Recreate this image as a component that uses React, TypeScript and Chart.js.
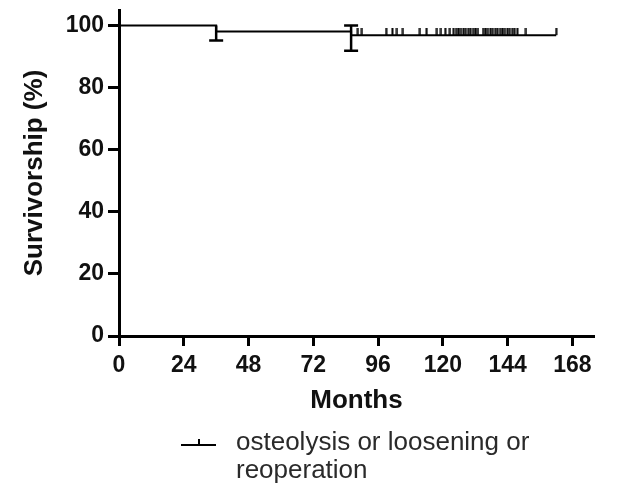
import React, { useEffect, useRef } from 'react';
import { Chart, registerables } from 'chart.js';

Chart.register(...registerables);

// ---- data ----
const xTicks = [0, 24, 48, 72, 96, 120, 144, 168];
const yTicks = [0, 20, 40, 60, 80, 100];
const stepTimes = [0, 36, 86, 162];
const stepSurvival = [100, 98.1, 96.9, 96.9];
const eventTimes = [36, 86];
const ciLower = [95.2, 91.9];
const ciUpper = [100, 100];
const censorTimes = [
  88.5, 90, 99, 101.3, 103, 105.2, 111.5, 114, 117.8, 119.3, 120.9, 122.6,
  124, 124.9, 125.8, 126.7, 127.6, 128.5, 129.4, 130.3, 131.2, 132.1, 133,
  134.9, 135.8, 136.7, 137.6, 138.5, 139.4, 140.3, 141.2, 142.1, 143, 143.9,
  144.8, 145.7, 146.6, 147.6, 150.8, 162,
];
const legendLines = ['osteolysis or loosening or', 'reoperation'];
const xTitle = 'Months';
const yTitle = 'Survivorship (%)';

const FONT = '"Liberation Sans", Arial, sans-serif';

function survivalAt(t: number): number {
  let s = stepSurvival[0];
  for (let i = 0; i < stepTimes.length; i++) {
    if (stepTimes[i] <= t) s = stepSurvival[i];
  }
  return s;
}

function makeTick(): HTMLCanvasElement {
  const c = document.createElement('canvas');
  c.width = 3;
  c.height = 14;
  const g = c.getContext('2d')!;
  g.fillStyle = '#000';
  g.fillRect(0.5, 0, 2, 7);
  return c;
}

const errorBarPlugin = {
  id: 'kmErrorBars',
  afterDatasetsDraw(chart: any) {
    const { ctx, scales } = chart;
    const x = scales.x;
    const y = scales.y;
    ctx.save();
    ctx.strokeStyle = '#000';
    ctx.lineWidth = 2.5;
    eventTimes.forEach((t, i) => {
      const px = x.getPixelForValue(t);
      const yl = y.getPixelForValue(ciLower[i]);
      const yu = y.getPixelForValue(ciUpper[i]);
      const before = survivalAt(t - 0.001);
      ctx.beginPath();
      ctx.moveTo(px, yu);
      ctx.lineTo(px, yl);
      ctx.moveTo(px - 7, yl);
      ctx.lineTo(px + 7, yl);
      if (ciUpper[i] > before) {
        ctx.moveTo(px - 7, yu);
        ctx.lineTo(px + 7, yu);
      }
      ctx.stroke();
    });
    ctx.restore();
  },
};

const legendPlugin = {
  id: 'kmLegend',
  afterDraw(chart: any) {
    const { ctx } = chart;
    ctx.save();
    ctx.strokeStyle = '#000';
    ctx.lineWidth = 2;
    ctx.beginPath();
    ctx.moveTo(181, 445);
    ctx.lineTo(216, 445);
    ctx.moveTo(199, 445);
    ctx.lineTo(199, 439);
    ctx.stroke();
    ctx.fillStyle = '#2a2a2a';
    ctx.font = `26px ${FONT}`;
    ctx.textBaseline = 'middle';
    ctx.textAlign = 'left';
    legendLines.forEach((line, i) => {
      ctx.fillText(line, 236, 443 + i * 28);
    });
    ctx.restore();
  },
};

export default function App() {
  const ref = useRef<HTMLCanvasElement | null>(null);

  useEffect(() => {
    if (!ref.current) return;
    const tick = makeTick();
    const chart = new Chart(ref.current, {
      type: 'scatter',
      data: {
        datasets: [
          {
            label: legendLines.join(' '),
            data: stepTimes.map((t, i) => ({ x: t, y: stepSurvival[i] })),
            showLine: true,
            stepped: 'before',
            borderColor: '#000',
            borderWidth: 2,
            pointRadius: 0,
            fill: false,
          },
          {
            label: 'censored',
            data: censorTimes.map((t) => ({ x: t, y: survivalAt(t) })),
            showLine: false,
            pointStyle: tick as any,
            pointRadius: 5,
          },
        ],
      },
      options: {
        responsive: false,
        animation: false,
        layout: { padding: { top: 10, right: 25, left: 0, bottom: 0 } },
        plugins: {
          legend: { display: false },
          tooltip: { enabled: false },
        },
        scales: {
          x: {
            type: 'linear',
            min: 0,
            max: 176,
            afterBuildTicks: (s: any) => {
              s.ticks = xTicks.map((v) => ({ value: v }));
            },
            afterFit: (s: any) => {
              s.height = 155;
              s.paddingLeft = 0;
              s.paddingRight = 0;
            },
            ticks: {
              autoSkip: false,
              maxRotation: 0,
              padding: 6,
              color: '#111',
              font: { family: FONT, size: 23, weight: 'bold' },
            },
            grid: {
              drawOnChartArea: false,
              color: '#000',
              tickLength: 10,
              tickWidth: 3,
            },
            border: { display: true, color: '#000', width: 3 },
            title: {
              display: true,
              text: xTitle,
              color: '#111',
              font: { family: FONT, size: 26, weight: 'bold' },
              padding: { top: 0, bottom: 75 },
            },
          },
          y: {
            type: 'linear',
            min: 0,
            max: 105,
            afterBuildTicks: (s: any) => {
              s.ticks = yTicks.map((v) => ({ value: v }));
            },
            afterFit: (s: any) => {
              s.width = 119;
              s.paddingTop = 0;
              s.paddingBottom = 0;
            },
            ticks: {
              padding: 4,
              color: '#111',
              font: { family: FONT, size: 23, weight: 'bold' },
            },
            grid: {
              drawOnChartArea: false,
              color: '#000',
              tickLength: 11,
              tickWidth: 3,
            },
            border: { display: true, color: '#000', width: 3 },
            title: {
              display: true,
              text: yTitle,
              color: '#111',
              font: { family: FONT, size: 26, weight: 'bold' },
              padding: { top: 19, bottom: 0 },
            },
          },
        },
      },
      plugins: [errorBarPlugin, legendPlugin],
    });
    return () => chart.destroy();
  }, []);

  return (
    <div style={{ position: 'fixed', left: 0, top: 0, width: 619, height: 491, background: '#fff' }}>
      <canvas ref={ref} width={619} height={491} style={{ display: 'block' }} />
    </div>
  );
}
